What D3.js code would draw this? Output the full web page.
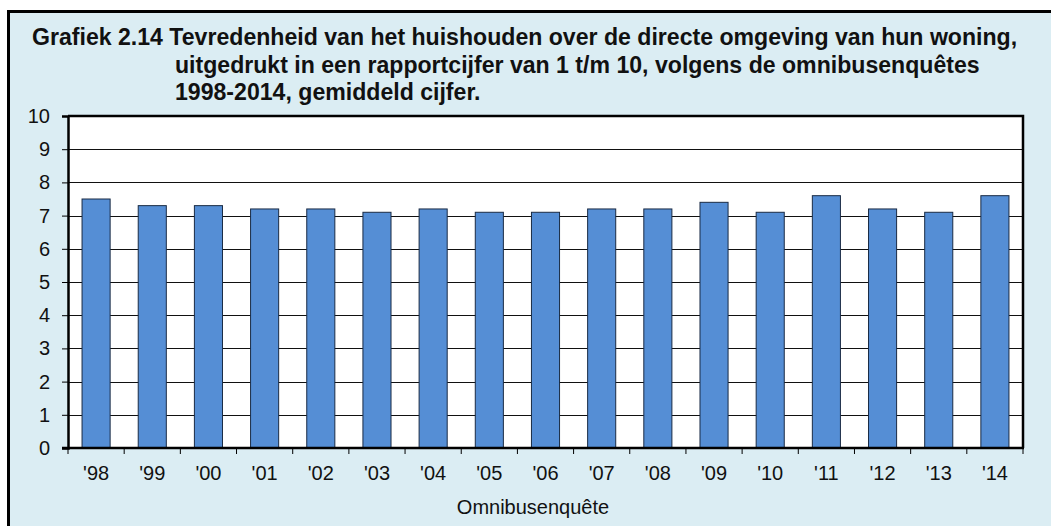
<!DOCTYPE html>
<html>
<head>
<meta charset="utf-8">
<script src="https://cdn.jsdelivr.net/npm/d3@7"></script>
<style>
  body { margin: 0; background: #fff; }
  svg { display: block; font-family: "Liberation Sans", Arial, sans-serif; }
</style>
</head>
<body>
<svg id="chart" width="1051" height="526"></svg>
<script>
// data
const jaren = ["'98","'99","'00","'01","'02","'03","'04","'05","'06","'07","'08","'09","'10","'11","'12","'13","'14"];
const cijfers = [7.5, 7.3, 7.3, 7.2, 7.2, 7.1, 7.2, 7.1, 7.1, 7.2, 7.2, 7.4, 7.1, 7.6, 7.2, 7.1, 7.6];
const yTicks = [0, 1, 2, 3, 4, 5, 6, 7, 8, 9, 10];
const titel = [
  "Grafiek 2.14 Tevredenheid van het huishouden over de directe omgeving van hun woning,",
  "uitgedrukt in een rapportcijfer van 1 t/m 10, volgens de omnibusenquêtes",
  "1998-2014, gemiddeld cijfer."
];
const xTitel = "Omnibusenquête";

const svg = d3.select("#chart");

// panel
svg.append("rect")
  .attr("x", 8.5).attr("y", 11.5)
  .attr("width", 1060).attr("height", 540)
  .attr("fill", "#dbedf3")
  .attr("stroke", "#000").attr("stroke-width", 3);

// title
const tSize = 23.1;
svg.append("text")
  .attr("x", 32).attr("y", 45)
  .attr("font-size", tSize).attr("font-weight", "bold").attr("fill", "#111")
  .text(titel[0]);
svg.append("text")
  .attr("x", 175).attr("y", 72.5)
  .attr("font-size", tSize).attr("font-weight", "bold").attr("fill", "#111")
  .text(titel[1]);
svg.append("text")
  .attr("x", 175).attr("y", 100)
  .attr("font-size", tSize).attr("font-weight", "bold").attr("fill", "#111")
  .text(titel[2]);

const m = { left: 68, top: 116, right: 1023, bottom: 448 };

const x = d3.scaleBand()
  .domain(jaren)
  .range([m.left, m.right])
  .paddingInner(0.5)
  .paddingOuter(0.25);

const xb = d3.scaleBand().domain(jaren).range([m.left, m.right]);

const y = d3.scaleLinear().domain([0, 10]).range([m.bottom, m.top]);

// plot area
svg.append("rect")
  .attr("x", m.left).attr("y", m.top)
  .attr("width", m.right - m.left).attr("height", m.bottom - m.top)
  .attr("fill", "#fff");

// gridlines
svg.append("g")
  .selectAll("line")
  .data(yTicks.filter(d => d > 0 && d < 10))
  .join("line")
  .attr("x1", m.left).attr("x2", m.right)
  .attr("y1", d => Math.round(y(d)) + 0.5).attr("y2", d => Math.round(y(d)) + 0.5)
  .attr("stroke", "#111").attr("stroke-width", 1);

// bars
svg.append("g")
  .selectAll("rect")
  .data(cijfers)
  .join("rect")
  .attr("x", (d, i) => x(jaren[i]))
  .attr("y", d => y(d))
  .attr("width", x.bandwidth())
  .attr("height", d => m.bottom - y(d))
  .attr("fill", "#558ed5")
  .attr("stroke", "#1a2b44").attr("stroke-width", 1);

// plot border top/right
svg.append("path")
  .attr("d", `M${m.left},${m.top}H${m.right}V${m.bottom}`)
  .attr("fill", "none").attr("stroke", "#000").attr("stroke-width", 2.5);

// y axis
const yAxis = svg.append("g")
  .attr("transform", `translate(${m.left},0)`)
  .call(d3.axisLeft(y).tickValues(yTicks).tickFormat(d3.format("d")).tickSize(6).tickPadding(12));
yAxis.select(".domain").attr("stroke", "#000").attr("stroke-width", 2.5);
yAxis.selectAll(".tick line").attr("stroke", "#000");
yAxis.selectAll("text")
  .attr("font-family", "Liberation Sans, Arial, sans-serif")
  .attr("font-size", 20).attr("fill", "#111");

// x axis: labels centred in each category
const xAxis = svg.append("g")
  .attr("transform", `translate(0,${m.bottom})`)
  .call(d3.axisBottom(x).tickSize(0).tickPadding(18));
xAxis.select(".domain").remove();
xAxis.selectAll("text")
  .attr("font-family", "Liberation Sans, Arial, sans-serif")
  .attr("font-size", 20).attr("fill", "#111");

svg.append("line")
  .attr("x1", m.left - 6).attr("x2", m.right + 1)
  .attr("y1", m.bottom).attr("y2", m.bottom)
  .attr("stroke", "#000").attr("stroke-width", 2.5);

// ticks on category boundaries
svg.append("g")
  .selectAll("line")
  .data(jaren.concat(["end"]))
  .join("line")
  .attr("x1", (d, i) => i < jaren.length ? xb(d) : m.right)
  .attr("x2", (d, i) => i < jaren.length ? xb(d) : m.right)
  .attr("y1", m.bottom).attr("y2", m.bottom + 6)
  .attr("stroke", "#000").attr("stroke-width", 1);

// x title
svg.append("text")
  .attr("x", 533).attr("y", 514)
  .attr("text-anchor", "middle")
  .attr("font-size", 20).attr("fill", "#111")
  .text(xTitel);
</script>
</body>
</html>
